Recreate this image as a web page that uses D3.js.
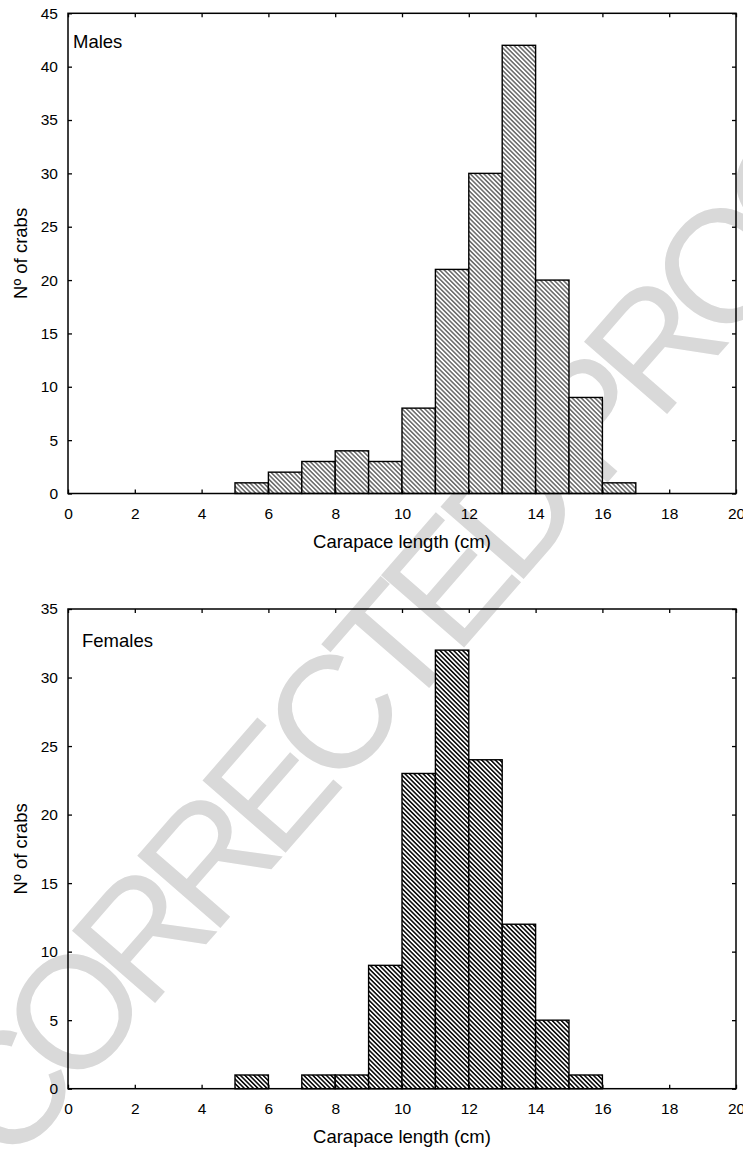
<!DOCTYPE html>
<html>
<head>
<meta charset="utf-8">
<script src="https://cdn.jsdelivr.net/npm/d3@7"></script>
<style>
    body { margin: 0; background: #fff; }
    svg { display: block; font-family: "Liberation Sans", Arial, sans-serif; }
</style>
</head>
<body>
<svg id="chart" width="743" height="1153"></svg>
<script>
// histogram bins (lower edge of each 1 cm class) and counts
const maleBins = [4, 5, 6, 7, 8, 9, 10, 11, 12, 13, 14, 15, 16, 17, 18];
const maleCounts = [0, 1, 2, 3, 4, 3, 8, 21, 30, 42, 20, 9, 1, 0, 0];
const femaleBins = [5, 6, 7, 8, 9, 10, 11, 12, 13, 14, 15, 16];
const femaleCounts = [1, 0, 1, 1, 9, 23, 32, 24, 12, 5, 1, 0];

const xTicks = [0, 2, 4, 6, 8, 10, 12, 14, 16, 18, 20];
const maleYTicks = [0, 5, 10, 15, 20, 25, 30, 35, 40, 45];
const femaleYTicks = [0, 5, 10, 15, 20, 25, 30, 35];

const xTitle = "Carapace length (cm)";
const yTitle = "Nº of crabs";
const watermark = "CORRECTED PROOF";

const svg = d3.select("#chart");
const defs = svg.append("defs");

// hatch patterns: light for males, dense for females
function addHatch(id, width, gap) {
    defs.append("pattern")
        .attr("id", id)
        .attr("patternUnits", "userSpaceOnUse")
        .attr("width", gap)
        .attr("height", gap)
        .attr("patternTransform", "rotate(-45)")
        .call(p => {
            p.append("rect").attr("width", gap).attr("height", gap).attr("fill", "#fff");
            p.append("line")
                .attr("x1", gap / 2).attr("x2", gap / 2)
                .attr("y1", 0).attr("y2", gap)
                .attr("stroke", "#000")
                .attr("stroke-width", width);
        });
}
addHatch("hatchLight", 0.9, 3.2);
addHatch("hatchDark", 1.5, 3.2);

// watermark sits behind everything
svg.append("text")
    .attr("transform", "translate(10,1170) rotate(-49)")
    .attr("font-size", 160)
    .attr("letter-spacing", -16)
    .attr("fill", "#d9d9d9")
    .text(watermark);

const panels = [
    {label: "Males", bins: maleBins, counts: maleCounts, yTicks: maleYTicks, yMax: 45,
        top: 13.3, bottom: 493.5, hatch: "hatchLight", labelX: 73, labelY: 48},
    {label: "Females", bins: femaleBins, counts: femaleCounts, yTicks: femaleYTicks, yMax: 35,
        top: 609, bottom: 1088.7, hatch: "hatchDark", labelX: 82, labelY: 647}
];

const left = 68, right = 736;
const x = d3.scaleLinear().domain([0, 20]).range([left, right]);

panels.forEach(p => {
    const y = d3.scaleLinear().domain([0, p.yMax]).range([p.bottom, p.top]);
    const g = svg.append("g");

    // bars
    g.selectAll(".bar")
        .data(p.bins.map((b, i) => ({x0: b, x1: b + 1, n: p.counts[i]})))
        .enter()
        .append("rect")
        .attr("class", "bar")
        .attr("x", d => x(d.x0))
        .attr("width", d => x(d.x1) - x(d.x0))
        .attr("y", d => y(d.n))
        .attr("height", d => y(0) - y(d.n))
        .attr("fill", `url(#${p.hatch})`)
        .attr("stroke", "#000")
        .attr("stroke-width", 1.4);

    // axes with inward ticks
    const bottomAxis = d3.axisBottom(x).tickValues(xTicks).tickSizeInner(-4).tickSizeOuter(0).tickPadding(14.5);
    const topAxis = d3.axisTop(x).tickValues(xTicks).tickSizeInner(-4).tickSizeOuter(0).tickFormat("");
    const leftAxis = d3.axisLeft(y).tickValues(p.yTicks).tickSizeInner(-4).tickSizeOuter(0).tickPadding(10);
    const rightAxis = d3.axisRight(y).tickValues(p.yTicks).tickSizeInner(-4).tickSizeOuter(0).tickFormat("");

    [[bottomAxis, `translate(0,${p.bottom})`], [topAxis, `translate(0,${p.top})`],
        [leftAxis, `translate(${left},0)`], [rightAxis, `translate(${right},0)`]]
        .forEach(([ax, tr]) => {
            const a = g.append("g").attr("transform", tr).call(ax);
            a.select(".domain").remove();
            a.selectAll("line").attr("stroke-width", 1.3);
            a.selectAll("text").attr("font-size", 15.5).attr("fill", "#000")
                .attr("font-family", "Liberation Sans, Arial, sans-serif");
        });

    // frame
    g.append("rect")
        .attr("x", left).attr("y", p.top)
        .attr("width", right - left).attr("height", p.bottom - p.top)
        .attr("fill", "none")
        .attr("stroke", "#000")
        .attr("stroke-width", 1.5);

    g.append("text")
        .attr("x", p.labelX).attr("y", p.labelY)
        .attr("font-size", 18.5)
        .text(p.label);

    g.append("text")
        .attr("x", (left + right) / 2).attr("y", p.bottom + 54.5)
        .attr("text-anchor", "middle")
        .attr("font-size", 18.5)
        .text(xTitle);

    g.append("text")
        .attr("transform", `translate(27,${(p.top + p.bottom) / 2}) rotate(-90)`)
        .attr("text-anchor", "middle")
        .attr("font-size", 18.5)
        .text(yTitle);
});
</script>
</body>
</html>
